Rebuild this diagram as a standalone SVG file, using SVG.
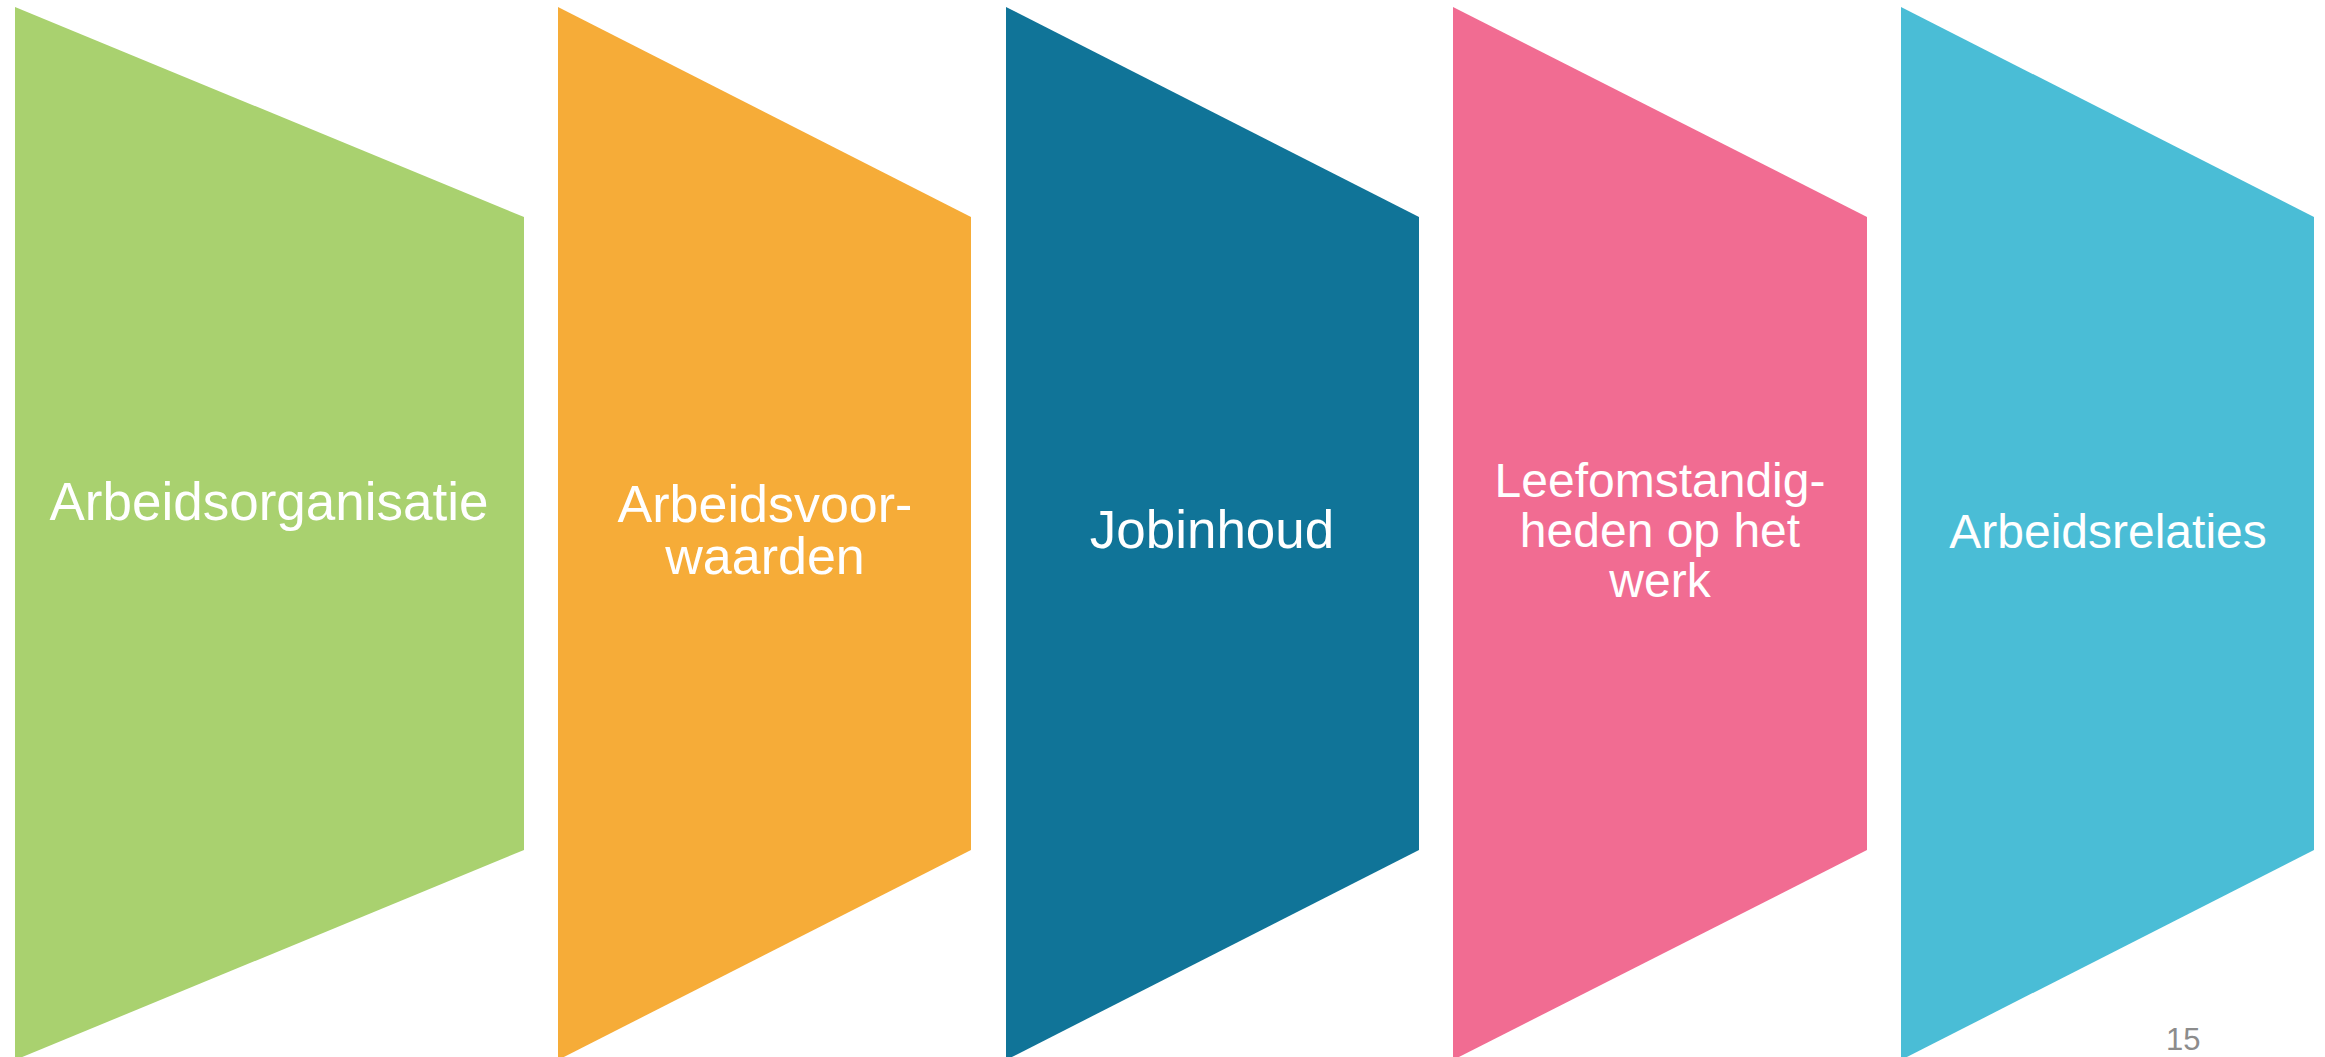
<svg xmlns="http://www.w3.org/2000/svg" width="2325" height="1057" viewBox="0 0 2325 1057">
  <style>
    .lbl { font-family: "Liberation Sans", Arial, sans-serif; font-size: 53px; fill: #ffffff; text-anchor: middle; }
    .sm { font-size: 48px; }
    .pg { font-family: "Liberation Sans", Arial, sans-serif; font-size: 31px; fill: #8c8c8c; }
  </style>
  <rect width="2325" height="1057" fill="#ffffff"/>

  <!-- five funnel-shaped panels, narrowing to the right -->
  <g id="node-arbeidsorganisatie">
    <polygon points="15,7 524,217 524,850 15,1060" fill="#a9d16f"/>
    <text class="lbl" x="269" y="520">Arbeidsorganisatie</text>
  </g>

  <g id="node-arbeidsvoorwaarden">
    <polygon points="558,7 971,217 971,850 558,1060" fill="#f6ac38"/>
    <text class="lbl" x="765" y="522" style="font-size:52px">Arbeidsvoor-</text>
    <text class="lbl" x="765" y="574" style="font-size:52px">waarden</text>
  </g>

  <g id="node-jobinhoud">
    <polygon points="1006,7 1419,217 1419,850 1006,1060" fill="#107498"/>
    <text class="lbl" x="1212" y="548">Jobinhoud</text>
  </g>

  <g id="node-leefomstandigheden">
    <polygon points="1453,7 1867,217 1867,850 1453,1060" fill="#f16c92"/>
    <text class="lbl sm" x="1660" y="497">Leefomstandig-</text>
    <text class="lbl sm" x="1660" y="547">heden op het</text>
    <text class="lbl sm" x="1660" y="597">werk</text>
  </g>

  <g id="node-arbeidsrelaties">
    <polygon points="1901,7 2314,217 2314,850 1901,1060" fill="#4abdd6"/>
    <text class="lbl sm" x="2108" y="548">Arbeidsrelaties</text>
  </g>

  <g id="connectors"></g>

  <text class="pg" x="2166" y="1050">15</text>
</svg>
